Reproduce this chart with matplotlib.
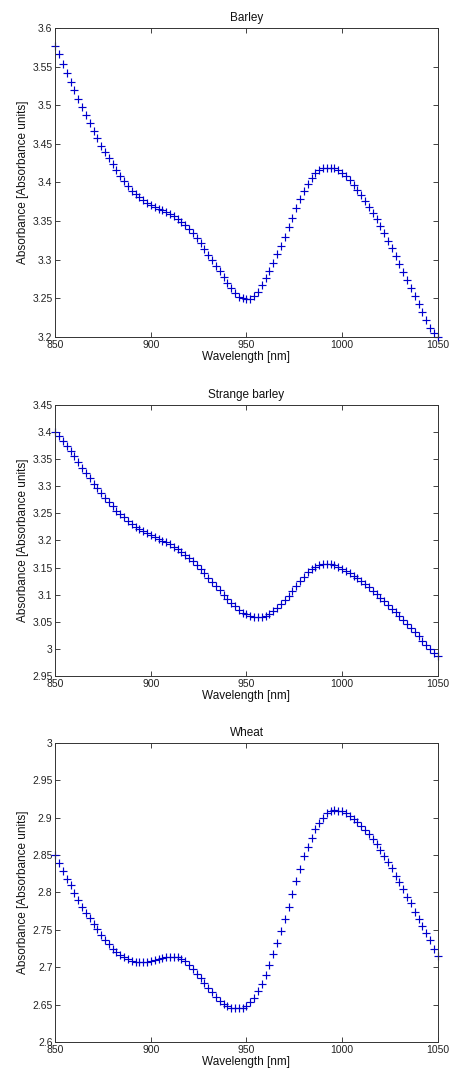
import numpy as np
import matplotlib
matplotlib.use("Agg")
import matplotlib.pyplot as plt
from matplotlib.ticker import FuncFormatter

# Wavelength grid (nm), one spectrum sample every 2 nm
wavelength = np.arange(850, 1051, 2)

barley = [
    3.5771, 3.5659, 3.5538, 3.5422, 3.5305, 3.5193, 3.5085, 3.4977, 3.4869, 3.4770,
    3.4671, 3.4572, 3.4477, 3.4390, 3.4313, 3.4239, 3.4162, 3.4088, 3.4019, 3.3950,
    3.3894, 3.3851, 3.3808, 3.3769, 3.3739, 3.3713, 3.3687, 3.3657, 3.3640, 3.3622,
    3.3596, 3.3562, 3.3532, 3.3493, 3.3450, 3.3398, 3.3342, 3.3281, 3.3212, 3.3139,
    3.3066, 3.2997, 3.2923, 3.2854, 3.2781, 3.2703, 3.2634, 3.2574, 3.2522, 3.2505,
    3.2496,
    3.2492, 3.2535, 3.2587, 3.2669, 3.2764, 3.2859, 3.2954, 3.3070, 3.3183, 3.3299,
    3.3420, 3.3545, 3.3666, 3.3782, 3.3890, 3.3985, 3.4059, 3.4119, 3.4158, 3.4184,
    3.4192, 3.4192, 3.4184, 3.4158, 3.4128, 3.4084, 3.4033, 3.3972, 3.3908, 3.3834,
    3.3765, 3.3687, 3.3610, 3.3523, 3.3437, 3.3342, 3.3247, 3.3148, 3.3049, 3.2945,
    3.2842, 3.2738, 3.2635, 3.2531, 3.2427, 3.2320, 3.2216, 3.2113, 3.2050, 3.2000,
]

strange_barley = [
    3.4010, 3.3928, 3.3842, 3.3749, 3.3651, 3.3559, 3.3448, 3.3337, 3.3239, 3.3147,
    3.3042, 3.2962, 3.2870, 3.2790, 3.2716, 3.2636, 3.2550, 3.2483, 3.2427, 3.2366,
    3.2304, 3.2255, 3.2206, 3.2169, 3.2132, 3.2095, 3.2058, 3.2027, 3.1997, 3.1966,
    3.1929, 3.1886, 3.1843, 3.1794, 3.1738, 3.1677, 3.1615, 3.1542, 3.1468, 3.1394,
    3.1314, 3.1234, 3.1160, 3.1080, 3.1000, 3.0927, 3.0853, 3.0785, 3.0724, 3.0668,
    3.0640,
    3.0613, 3.0594, 3.0588, 3.0594, 3.0613, 3.0650, 3.0705, 3.0761, 3.0828, 3.0902,
    3.0982, 3.1068, 3.1160, 3.1246, 3.1332, 3.1412, 3.1474, 3.1517, 3.1548, 3.1560,
    3.1566, 3.1560, 3.1542, 3.1517, 3.1480, 3.1443, 3.1400, 3.1351, 3.1308, 3.1253,
    3.1197, 3.1142, 3.1074, 3.1013, 3.0945, 3.0884, 3.0816, 3.0742, 3.0674, 3.0607,
    3.0533, 3.0453, 3.0379, 3.0305, 3.0232, 3.0152, 3.0072, 2.9998, 2.9930, 2.9869,
]

wheat = [
    2.8500, 2.8398, 2.8287, 2.8184, 2.8096, 2.7998, 2.7900, 2.7806, 2.7726, 2.7656,
    2.7576, 2.7506, 2.7435, 2.7369, 2.7307, 2.7250, 2.7201, 2.7162, 2.7131, 2.7104,
    2.7082, 2.7069, 2.7064, 2.7064, 2.7073, 2.7086, 2.7100, 2.7113, 2.7122, 2.7131,
    2.7135, 2.7135, 2.7131, 2.7113, 2.7078, 2.7029, 2.6976, 2.6915, 2.6853, 2.6791,
    2.6725, 2.6663, 2.6605, 2.6553, 2.6508, 2.6477, 2.6460, 2.6451, 2.6451, 2.6460,
    2.6486,
    2.6533, 2.6594, 2.6677, 2.6772, 2.6896, 2.7029, 2.7180, 2.7330, 2.7488, 2.7639,
    2.7810, 2.7985, 2.8156, 2.8320, 2.8483, 2.8607, 2.8726, 2.8850, 2.8934, 2.9000,
    2.9058, 2.9084, 2.9098, 2.9095, 2.9084, 2.9058, 2.9018, 2.8978, 2.8939, 2.8890,
    2.8837, 2.8779, 2.8713, 2.8647, 2.8567, 2.8492, 2.8408, 2.8324, 2.8227, 2.8143,
    2.8050, 2.7939, 2.7855, 2.7736, 2.7639, 2.7550, 2.7458, 2.7360, 2.7250, 2.7157,
]

titles = ["Barley", "Strange barley", "Wheat"]
series = [barley, strange_barley, wheat]
y_limits = [(3.2, 3.6), (2.95, 3.45), (2.6, 3.0)]
x_ticks = [850, 900, 950, 1000, 1050]
x_label = "Wavelength [nm]"
y_label = "Absorbance [Absorbance units]"

plt.rcParams["font.family"] = ["Liberation Sans", "DejaVu Sans"]

fig = plt.figure(figsize=(4.51, 10.79), dpi=100)
fig.patch.set_facecolor("white")

# axes rectangles in figure fractions (left, bottom, width, height)
boxes = [
    (0.1226, 0.6877, 0.8479, 0.2864),
    (0.1226, 0.3735, 0.8479, 0.2512),
    (0.1226, 0.0343, 0.8479, 0.2771),
]

fmt = FuncFormatter(lambda v, _pos: f"{v:g}")

for box, title, values, (lo, hi) in zip(boxes, titles, series, y_limits):
    ax = fig.add_axes(box)
    ax.plot(wavelength, values, linestyle="none", marker="+", color="#0000cc",
            markersize=5.2, markeredgewidth=0.85, clip_on=False)
    ax.set_xlim(850, 1050)
    ax.set_ylim(lo, hi)
    ax.set_xticks(x_ticks)
    ax.set_yticks(np.round(np.arange(lo, hi + 1e-9, 0.05), 2))
    ax.yaxis.set_major_formatter(fmt)
    ax.tick_params(direction="in", top=True, right=True, length=3.5, width=0.6,
                   labelsize=7.5, pad=2, colors="#222222")
    for spine in ax.spines.values():
        spine.set_linewidth(0.7)
        spine.set_color("#333333")
    ax.set_title(title, fontsize=8.5, pad=5, color="#111111")
    ax.set_xlabel(x_label, fontsize=8.5, labelpad=1, color="#111111")
    ax.set_ylabel(y_label, fontsize=8.5, labelpad=2, color="#111111")

fig.savefig("out.png", dpi=100, facecolor="white")
